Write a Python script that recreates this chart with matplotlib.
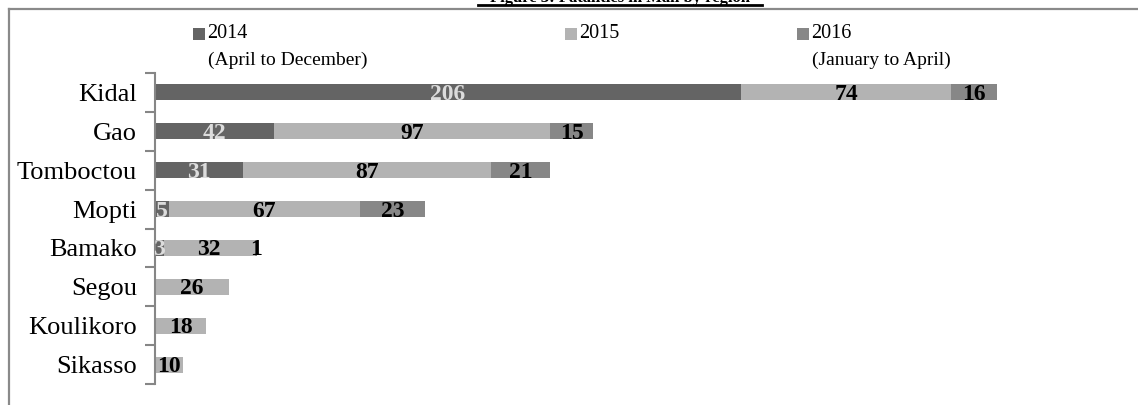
import matplotlib
matplotlib.use("Agg")
import matplotlib.pyplot as plt
from matplotlib.patches import Rectangle
from matplotlib.lines import Line2D

regions = ["Kidal", "Gao", "Tomboctou", "Mopti", "Bamako", "Segou", "Koulikoro", "Sikasso"]
v2014 = [206, 42, 31, 5, 3, 0, 0, 0]
v2015 = [74, 97, 87, 67, 32, 26, 18, 10]
v2016 = [16, 15, 21, 23, 1, 0, 0, 0]
series_names = ["2014", "2015", "2016"]
series_sub = ["(April to December)", "", "(January to April)"]
title = "Figure 3: Fatalities in Mali by region"

colors = ["#646464", "#b3b3b3", "#878787"]
label_colors = ["#dcdcdc", "black", "black"]

W, H = 1138, 405
fig = plt.figure(figsize=(W / 100, H / 100), dpi=100)
plt.rcParams['font.family'] = ['Liberation Serif', 'DejaVu Serif']

def fx(px):
    return px / W

def fy(py):
    return 1 - py / H

ax_left, ax_right, ax_top, ax_bottom = 155, 1100, 73, 384
ax = fig.add_axes([fx(ax_left), fy(ax_bottom), fx(ax_right - ax_left), (ax_bottom - ax_top) / H])
scale = 842 / 296.0
ax.set_xlim(0, (ax_right - ax_left) / scale)
n = len(regions)
ax.set_ylim(n - 0.5, -0.5)

bar_h = 0.41
series = [v2014, v2015, v2016]
lefts = [0] * n
for si, vals in enumerate(series):
    ax.barh(range(n), vals, left=lefts, height=bar_h, color=colors[si], edgecolor='none')
    for i, v in enumerate(vals):
        if v > 0:
            ax.text(lefts[i] + v / 2, i + 0.05, str(v), ha='center', va='center',
                    fontsize=17, fontweight='bold', color=label_colors[si])
    lefts = [l + v for l, v in zip(lefts, vals)]

for s in ['top', 'right', 'bottom']:
    ax.spines[s].set_visible(False)
ax.spines['left'].set_color('#868686')
ax.spines['left'].set_linewidth(1.5)
ax.set_xticks([])
ax.set_yticks([i - 0.5 for i in range(n + 1)])
ax.set_yticklabels([])
ax.set_yticks(range(n), minor=True)
ax.set_yticklabels(regions, minor=True, fontsize=19)
ax.tick_params(axis='y', which='major', length=7, width=1.5, color='#868686', direction='out')
ax.tick_params(axis='y', which='minor', length=0, pad=13)

# frame
fig.add_artist(Line2D([fx(8.5), fx(W + 5)], [fy(8.5), fy(8.5)], color='#8a8a8a', lw=1.6, transform=fig.transFigure))
fig.add_artist(Line2D([fx(8.5), fx(8.5)], [fy(8.5), fy(H + 5)], color='#8a8a8a', lw=1.6, transform=fig.transFigure))

# title (cropped at top, as in the reference)
fig.text(fx(620), fy(2.5), title, ha='center', va='baseline', fontsize=12, fontweight='bold')
fig.add_artist(Line2D([fx(478), fx(762)], [fy(5), fy(5)], color='black', lw=2, transform=fig.transFigure))

# legend
leg_x = [193, 565, 797]
for i, name in enumerate(series_names):
    x0 = leg_x[i]
    fig.add_artist(Rectangle((fx(x0), fy(40)), fx(12), 12 / H, facecolor=colors[i], edgecolor='none',
                             transform=fig.transFigure))
    fig.text(fx(x0 + 14), fy(34), name, ha='left', va='center', fontsize=14.5)
    if series_sub[i]:
        fig.text(fx(x0 + 15), fy(60), series_sub[i], ha='left', va='center', fontsize=14)

fig.savefig("out.png", dpi=100)
